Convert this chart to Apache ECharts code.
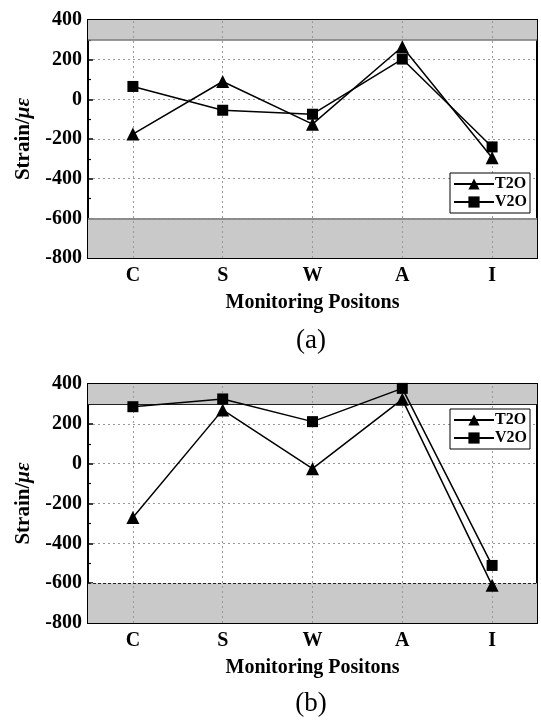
<!DOCTYPE html>
<html><head><meta charset="utf-8">
<script src="https://cdn.jsdelivr.net/npm/echarts@6/dist/echarts.min.js"></script>
<style>html,body{margin:0;padding:0;background:#fff}#c{width:541px;height:722px}</style>
</head><body><div id="c"></div>
<script>
const categories = ['C','S','W','A','I'];
const t2oA = [-175, 90, -125, 265, -295];
const v2oA = [65, -55, -75, 203, -240];
const t2oB = [-270, 270, -25, 323, -611];
const v2oB = [286, 325, 211, 378, -511];
const upperBand = [300, 400];
const lowerBand = [-800, -600];

const FONT = 'Liberation Serif';
const chart = echarts.init(document.getElementById('c'));

function xAxes(gi){
  return [{
    type:'category', gridIndex:gi, data:categories, boundaryGap:true,
    axisLine:{show:true, onZero:false, lineStyle:{color:'#000', width:2}},
    axisTick:{show:true, inside:true, alignWithLabel:true, length:5, lineStyle:{color:'#000', width:1.5}},
    axisLabel:{color:'#000', fontFamily:FONT, fontWeight:'bold', fontSize:20, margin:8},
    splitLine:{show:false},
    name:'Monitoring Positons', nameLocation:'middle', nameGap:35,
    nameTextStyle:{color:'#000', fontFamily:FONT, fontWeight:'bold', fontSize:20}
  },{
    type:'category', gridIndex:gi, data:categories, boundaryGap:true, position:'bottom',
    axisLine:{show:false, onZero:false},
    axisTick:{show:true, inside:true, length:3, lineStyle:{color:'#000', width:1.5}},
    axisLabel:{show:false}, splitLine:{show:false}
  }];
}
function yAxis(gi){
  return {
    type:'value', gridIndex:gi, min:-800, max:400, interval:200,
    axisLine:{show:true, onZero:false, lineStyle:{color:'#000', width:2}},
    axisTick:{show:true, inside:true, length:5, lineStyle:{color:'#000', width:1.5}},
    minorTick:{show:true, splitNumber:2, length:3, lineStyle:{color:'#000', width:1.2}},
    axisLabel:{color:'#000', fontFamily:FONT, fontWeight:'bold', fontSize:20, margin:6},
    splitLine:{show:true, lineStyle:{color:'#999', type:[2,3], width:1}},
    name:'{b|Strain/}{i|με}', nameLocation:'middle', nameGap:52, nameRotate:90,
    nameTextStyle:{rich:{
      b:{color:'#000', fontFamily:FONT, fontWeight:'bold', fontSize:21},
      i:{color:'#000', fontFamily:FONT, fontWeight:'bold', fontStyle:'italic', fontSize:21}
    }}
  };
}
function bandSeries(gi, dashedLower){
  return {
    type:'line', xAxisIndex:gi*2, yAxisIndex:gi, data:[], silent:true, z:1,
    markArea:{silent:true, itemStyle:{color:'#c9c9c9'},
      data:[[{yAxis:upperBand[0]},{yAxis:upperBand[1]}],[{yAxis:lowerBand[0]},{yAxis:lowerBand[1]}]]},
    markLine:{silent:true, symbol:'none', label:{show:false},
      data:[
        {yAxis:upperBand[0], lineStyle:{color: dashedLower ? '#222' : '#777', width: dashedLower?1:1.5, type:'solid'}},
        {yAxis:lowerBand[1], lineStyle:{color: dashedLower ? '#222' : '#777', width: dashedLower?1:1.5, type: dashedLower?[3,2]:'solid'}}
      ].concat(categories.map(c=>({xAxis:c, lineStyle:{color:'#999', width:1, type:[2,3]}})))
    }
  };
}
function dataSeries(gi, name, data, sym){
  return {
    name, type:'line', xAxisIndex:gi*2, yAxisIndex:gi, data, z:5,
    symbol:sym, symbolSize: sym==='triangle'?13:11,
    lineStyle:{color:'#000', width:1.5}, itemStyle:{color:'#000'},
    animation:false
  };
}
function legend(top){
  return {
    left:450, top:top, orient:'vertical', data:['T2O','V2O'],
    backgroundColor:'#fff', borderColor:'#000', borderWidth:1, borderRadius:0,
    padding:[3,3,3,3], itemGap:2, itemWidth:40, itemHeight:14,
    textStyle:{color:'#000', fontFamily:FONT, fontWeight:'bold', fontSize:16, padding:[0,0,0,-4]},
    selectedMode:false, z:20
  };
}
chart.setOption({
  animation:false,
  grid:[
    {left:88, top:20, width:449, height:238, show:true, borderColor:'#000', borderWidth:2, backgroundColor:'transparent'},
    {left:88, top:384, width:449, height:239, show:true, borderColor:'#000', borderWidth:2, backgroundColor:'transparent'}
  ],
  xAxis:[...xAxes(0), ...xAxes(1)],
  yAxis:[yAxis(0), yAxis(1)],
  legend:[legend(173), legend(409)],
  graphic:[
    {type:'text', x:311, y:341, style:{text:'(a)', font:'27px "Liberation Serif"', fill:'#000', textAlign:'center', textVerticalAlign:'middle'}},
    {type:'text', x:311, y:704, style:{text:'(b)', font:'27px "Liberation Serif"', fill:'#000', textAlign:'center', textVerticalAlign:'middle'}}
  ],
  series:[
    bandSeries(0,false),
    dataSeries(0,'T2O',t2oA,'triangle'),
    dataSeries(0,'V2O',v2oA,'rect'),
    bandSeries(1,true),
    dataSeries(1,'T2O',t2oB,'triangle'),
    dataSeries(1,'V2O',v2oB,'rect')
  ]
});
</script></body></html>
